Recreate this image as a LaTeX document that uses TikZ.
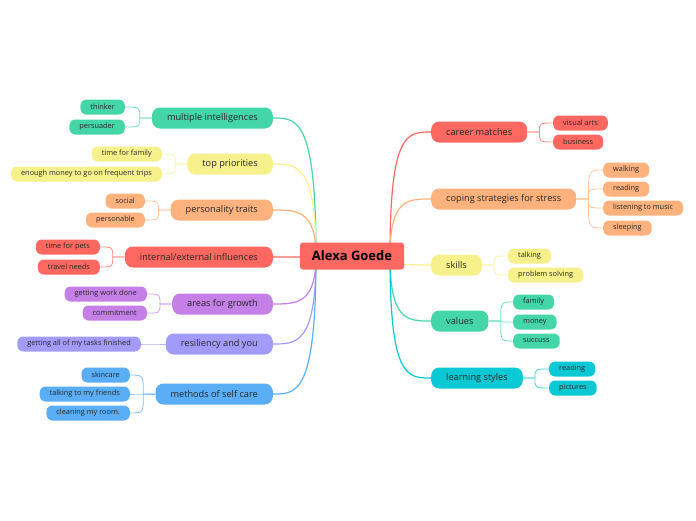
\documentclass[tikz,border=0pt]{standalone}
\usepackage{fontspec}
\setmainfont{Open Sans}
\usetikzlibrary{backgrounds}
\definecolor{redM}{RGB}{255,104,97}
\definecolor{greenM}{RGB}{68,214,166}
\definecolor{yellowM}{RGB}{247,241,140}
\definecolor{orangeM}{RGB}{255,178,125}
\definecolor{purpleM}{RGB}{197,128,232}
\definecolor{lilacM}{RGB}{163,155,250}
\definecolor{blueM}{RGB}{90,174,245}
\definecolor{cyanM}{RGB}{11,201,212}
\definecolor{txt}{RGB}{40,40,40}
\tikzset{
  root/.style={rounded corners=3pt,fill=redM,minimum height=27pt,inner xsep=12pt,inner ysep=0pt,font=\fontsize{13}{15}\selectfont\bfseries},
  topic/.style={rounded corners=8pt,minimum height=21pt,inner xsep=15pt,inner ysep=0pt,text=txt,font=\fontsize{9.2}{11}\selectfont},
  leaf/.style={rounded corners=6pt,minimum height=15pt,inner xsep=10pt,inner ysep=0pt,text=txt,font=\fontsize{7.35}{8.5}\selectfont},
  link/.style={line width=1.2pt},
  twig/.style={line width=0.8pt},
}

\begin{document}
\begin{tikzpicture}[x=1pt,y=-1pt]
\useasboundingbox (0,0) rectangle (696,520);
%
\node[root] (root) at (352,256) {Alexa Goede};
\coordinate (rl) at (316,256);
\coordinate (rr) at (390,256);
%
% left topics
\node[topic,fill=greenM,anchor=east] (mi) at (273,118) {multiple intelligences};
\node[topic,fill=yellowM,anchor=east] (tp) at (273,164) {top priorities};
\node[topic,fill=orangeM,anchor=east] (pt) at (273,210) {personality traits};
\node[topic,fill=redM,anchor=east] (ie) at (273,257) {internal/external influences};
\node[topic,fill=purpleM,anchor=east] (ag) at (273,304) {areas for growth};
\node[topic,fill=lilacM,anchor=east] (ry) at (273,344) {resiliency and you};
\node[topic,fill=blueM,anchor=east] (sc) at (273,394) {methods of self care};
%
% right topics
\node[topic,fill=redM,anchor=west] (cm) at (431,132) {career matches};
\node[topic,fill=orangeM,anchor=west] (cs) at (431,199) {coping strategies for stress};
\node[topic,fill=yellowM,anchor=west] (sk) at (431,265) {skills};
\node[topic,fill=greenM,anchor=west] (va) at (431,321) {values};
\node[topic,fill=cyanM,anchor=west] (ls) at (431,378) {learning styles};
%
\foreach \t in {mi,tp,pt,ie,ag,ry,sc} \coordinate (\t-j) at ([xshift=-12pt]\t.west);
\foreach \t in {cm,cs,sk,va,ls} \coordinate (\t-j) at ([xshift=12pt]\t.east);
%
% left leaves
\node[leaf,fill=greenM,anchor=east] (thinker) at (125,107) {thinker};
\node[leaf,fill=greenM,anchor=east] (persuader) at (125,127) {persuader};
\node[leaf,fill=yellowM,anchor=east] (famtime) at (162,154) {time for family};
\node[leaf,fill=yellowM,anchor=east] (trips) at (162,174) {enough money to go on frequent trips};
\node[leaf,fill=orangeM,anchor=east] (social) at (145,201) {social};
\node[leaf,fill=orangeM,anchor=east] (personable) at (145,220) {personable};
\node[leaf,fill=redM,anchor=east] (pets) at (100,247) {time for pets};
\node[leaf,fill=redM,anchor=east] (travel) at (100,267) {travel needs};
\node[leaf,fill=purpleM,anchor=east] (workdone) at (147,294) {getting work done};
\node[leaf,fill=purpleM,anchor=east] (commit) at (147,313) {commitment};
\node[leaf,fill=lilacM,anchor=east] (tasks) at (141,344) {getting all of my tasks finished};
\node[leaf,fill=blueM,anchor=east] (skin) at (130,375) {skincare};
\node[leaf,fill=blueM,anchor=east] (friends) at (130,394) {talking to my friends};
\node[leaf,fill=blueM,anchor=east] (room) at (130,413) {cleaning my room.};
%
% right leaves
\node[leaf,fill=redM,anchor=west] (arts) at (553,123) {visual arts};
\node[leaf,fill=redM,anchor=west] (business) at (553,142) {business};
\node[leaf,fill=orangeM,anchor=west] (walking) at (603,170) {walking};
\node[leaf,fill=orangeM,anchor=west] (reading) at (603,189) {reading};
\node[leaf,fill=orangeM,anchor=west] (music) at (603,208) {listening to music};
\node[leaf,fill=orangeM,anchor=west] (sleeping) at (603,228) {sleeping};
\node[leaf,fill=yellowM,anchor=west] (talking) at (508,256) {talking};
\node[leaf,fill=yellowM,anchor=west] (solving) at (508,275) {problem solving};
\node[leaf,fill=greenM,anchor=west] (family) at (513,302) {family};
\node[leaf,fill=greenM,anchor=west] (money) at (513,322) {money};
\node[leaf,fill=greenM,anchor=west] (succuss) at (513,341) {succuss};
\node[leaf,fill=cyanM,anchor=west] (readingb) at (549,369) {reading};
\node[leaf,fill=cyanM,anchor=west] (pictures) at (549,388) {pictures};
%
\begin{scope}[on background layer]
% root to topics
\foreach \t/\c in {mi/greenM,tp/yellowM,pt/orangeM,ie/redM,ag/purpleM,ry/lilacM,sc/blueM}
  \draw[link,\c] (rl) .. controls (rl |- \t.east) and ([xshift=24pt]\t.east) .. (\t.east);
\foreach \t/\c in {cm/redM,cs/orangeM,sk/yellowM,va/greenM,ls/cyanM}
  \draw[link,\c] (rr) .. controls (rr |- \t.west) and ([xshift=-24pt]\t.west) .. (\t.west);
%
% topics to leaves, left
\foreach \t/\l/\c in {mi/thinker/greenM,mi/persuader/greenM,tp/famtime/yellowM,tp/trips/yellowM,
  pt/social/orangeM,pt/personable/orangeM,ie/pets/redM,ie/travel/redM,ag/workdone/purpleM,
  ag/commit/purpleM,ry/tasks/lilacM,sc/skin/blueM,sc/friends/blueM,sc/room/blueM}
  \draw[twig,\c!75] (\t.west) -- (\t-j) .. controls (\t-j |- \l.east) .. (\l.east);
% topics to leaves, right
\foreach \t/\l/\c in {cm/arts/redM,cm/business/redM,cs/walking/orangeM,cs/reading/orangeM,
  cs/music/orangeM,cs/sleeping/orangeM,sk/talking/yellowM,sk/solving/yellowM,va/family/greenM,
  va/money/greenM,va/succuss/greenM,ls/readingb/cyanM,ls/pictures/cyanM}
  \draw[twig,\c!75] (\t.east) -- (\t-j) .. controls (\t-j |- \l.west) .. (\l.west);
\end{scope}
\end{tikzpicture}
\end{document}
